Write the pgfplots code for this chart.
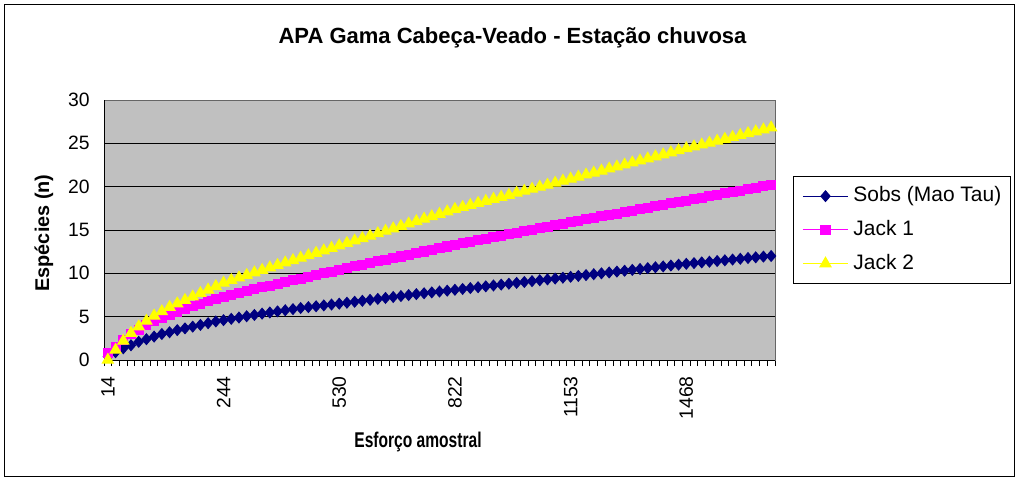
\documentclass[border=0pt]{standalone}
\usepackage{fontspec}
\setmainfont{Liberation Sans}
\usepackage{graphicx}
\usepackage{pgfplots}
\usepackage{pgfplotstable}
\pgfplotsset{compat=1.18}
\definecolor{plotgray}{HTML}{C0C0C0}
\definecolor{navyc}{HTML}{000080}
\definecolor{magc}{HTML}{FF00FF}
\definecolor{yelc}{HTML}{FFFF00}
\pgfplotstableread{
i sobs jack1 jack2
0 0.4 0.8 0.0
1 0.9 1.5 1.15
2 1.35 2.3 2.2
3 1.7 2.95 3.1
4 2.1 3.5 3.85
5 2.4 4.0 4.5
6 2.7 4.45 5.1
7 3.0 4.85 5.6
8 3.2 5.25 6.1
9 3.45 5.6 6.5
10 3.65 5.9 6.9
11 3.85 6.2 7.3
12 4.05 6.5 7.7
13 4.25 6.8 8.1
14 4.45 7.05 8.5
15 4.6 7.3 8.9
16 4.75 7.52 9.2
17 4.9 7.74 9.5
18 5.05 7.95 9.79
19 5.2 8.16 10.08
20 5.35 8.37 10.37
21 5.48 8.58 10.66
22 5.61 8.79 10.94
23 5.74 9.0 11.22
24 5.87 9.2 11.5
25 6.0 9.4 11.78
26 6.1 9.6 12.06
27 6.2 9.8 12.34
28 6.3 10.0 12.62
29 6.4 10.2 12.91
30 6.5 10.4 13.2
31 6.61 10.6 13.48
32 6.72 10.8 13.76
33 6.83 10.99 14.04
34 6.94 11.18 14.32
35 7.05 11.37 14.6
36 7.16 11.56 14.88
37 7.27 11.75 15.16
38 7.38 11.94 15.44
39 7.49 12.13 15.72
40 7.6 12.32 16.0
41 7.7 12.52 16.28
42 7.8 12.72 16.56
43 7.9 12.91 16.84
44 8.0 13.1 17.12
45 8.1 13.3 17.4
46 8.2 13.47 17.63
47 8.3 13.65 17.87
48 8.4 13.82 18.1
49 8.5 14.0 18.33
50 8.6 14.17 18.57
51 8.7 14.35 18.8
52 8.8 14.52 19.03
53 8.9 14.7 19.27
54 9.0 14.87 19.5
55 9.1 15.05 19.73
56 9.2 15.22 19.97
57 9.3 15.4 20.2
58 9.4 15.57 20.43
59 9.5 15.73 20.67
60 9.6 15.9 20.9
61 9.7 16.07 21.13
62 9.8 16.23 21.37
63 9.9 16.4 21.6
64 10.0 16.57 21.83
65 10.1 16.73 22.07
66 10.2 16.9 22.3
67 10.3 17.07 22.53
68 10.4 17.23 22.77
69 10.5 17.4 23.0
70 10.6 17.57 23.23
71 10.7 17.73 23.47
72 10.8 17.9 23.7
73 10.9 18.07 23.93
74 11.0 18.23 24.17
75 11.1 18.4 24.4
76 11.18 18.56 24.62
77 11.26 18.73 24.84
78 11.34 18.89 25.05
79 11.42 19.06 25.27
80 11.5 19.22 25.49
81 11.59 19.38 25.71
82 11.68 19.55 25.93
83 11.77 19.71 26.15
84 11.85 19.87 26.36
85 11.93 20.04 26.58
86 12.0 20.2 26.8
}\datatable
\begin{document}
\begin{tikzpicture}
\path[use as bounding box] (0,0) rectangle (763.5pt,360pt);
\fill[white] (0,0) rectangle (763.5pt,360pt);
\draw[black, line width=0.75pt] (3pt,3pt) rectangle (760.5pt,357pt);
\begin{axis}[
  at={(78pt,90pt)}, anchor=south west,
  scale only axis, width=503.25pt, height=195pt,
  xmin=-0.5, xmax=86.5, ymin=0, ymax=30,
  axis background/.style={fill=plotgray},
  axis line style={draw=gray!80!black, line width=0.75pt},
  clip=false,
  xtick={0,15,30,45,60,75},
  xticklabels={14,244,530,822,1153,1468},
  minor xtick={-0.5,0.5,...,86.5},
  major tick length=0pt,
  minor tick length=4.5pt,
  every minor tick/.style={black, line width=0.75pt},
  tick align=outside,
  xtick pos=bottom,
  ytick={0,5,...,30},
  ytick pos=left,
  every y tick/.style={black, line width=0.75pt},
  ymajorgrids,
  grid style={black, line width=0.75pt},
  /pgf/number format/assume math mode=true,
  xticklabel style={rotate=90, anchor=east, font=\fontsize{14.5pt}{16pt}\selectfont, inner sep=0pt},
  xticklabel shift={12pt},
  yticklabel style={font=\fontsize{14.5pt}{16pt}\selectfont, inner sep=0pt},
  yticklabel shift={10.5pt},
  y tick label style={/pgf/number format/fixed},
  legend style={at={(1.0268,0.7077)}, anchor=north west, draw=black, line width=0.75pt, fill=white,
    font=\fontsize{15.7pt}{17pt}\selectfont, inner xsep=6.75pt, inner ysep=7pt,
    row sep=9.8pt,
    nodes={inner sep=0pt, text height=12pt, text depth=3.5pt},
    /tikz/every odd column/.append style={column sep=3.75pt}},
  legend cell align=left,
  legend image code/.code={\draw[mark repeat=2,mark phase=2] plot coordinates {(0pt,0pt)(16.9pt,0pt)(33.75pt,0pt)};},
]
\draw[black, line width=0.75pt] (rel axis cs:0,0) -- (rel axis cs:0,1);
\draw[black, line width=0.75pt] (rel axis cs:0,0) -- (rel axis cs:1,0);
\addplot[navyc, line width=0.75pt, mark=diamond*, mark size=4pt, mark options={fill=navyc, draw=navyc, xscale=1.15}] table[x=i, y=sobs] {\datatable};
\addlegendentry{Sobs (Mao Tau)}
\addplot[magc, line width=0.75pt, mark=square*, mark size=3.4pt, mark options={fill=magc, draw=magc}] table[x=i, y=jack1] {\datatable};
\addlegendentry{Jack 1}
\addplot[yelc, line width=0.75pt, mark=triangle*, mark size=4.8pt, mark options={fill=yelc, draw=yelc}] table[x=i, y=jack2] {\datatable};
\addlegendentry{Jack 2}
\end{axis}
\node[font=\bfseries\fontsize{16.5pt}{18pt}\selectfont] at (384.4pt,331.5pt) {APA Gama Cabeça-Veado - Estação chuvosa};
\node[font=\bfseries\fontsize{16pt}{17pt}\selectfont] at (313.5pt,28.5pt) {\scalebox{0.73}[1]{Esforço amostral}};
\node[font=\bfseries\fontsize{14.9pt}{16pt}\selectfont, rotate=90] at (33pt,185.25pt) {Espécies (n)};
\end{tikzpicture}
\end{document}
